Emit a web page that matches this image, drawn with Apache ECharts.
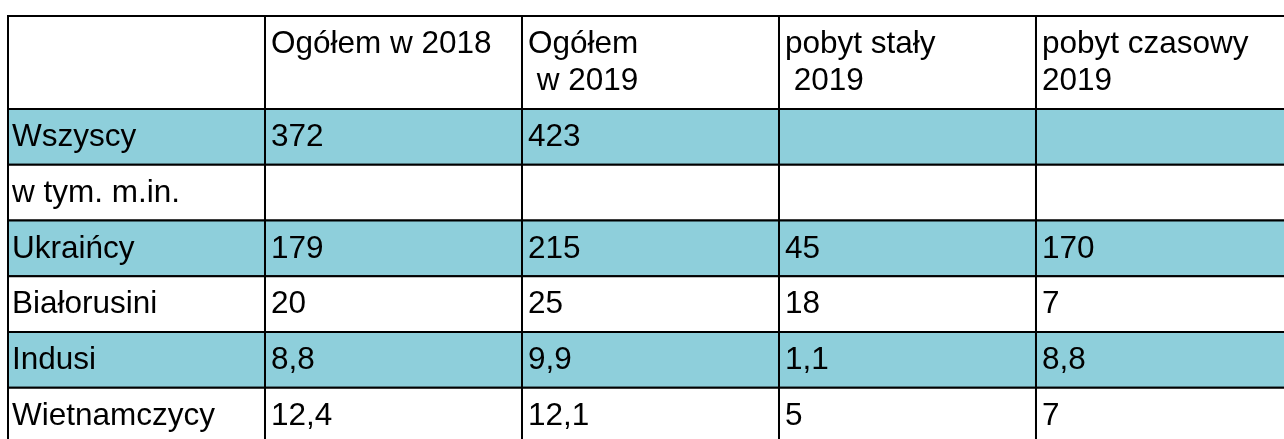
<!DOCTYPE html>
<html>
<head>
<meta charset="utf-8">
<script src="https://cdn.jsdelivr.net/npm/echarts@6/dist/echarts.min.js"></script>
<style>
  html, body { margin: 0; padding: 0; background: #fff; }
  #chart { width: 1284px; height: 439px; }
</style>
</head>
<body>
<div id="chart"></div>
<script>
// nagłówki kolumn
const columns = ['', 'Ogółem w 2018', 'Ogółem\n w 2019', 'pobyt stały\n 2019', 'pobyt czasowy\n2019']
// wiersze
const groups = ['Wszyscy', 'w tym. m.in.', 'Ukraińcy', 'Białorusini', 'Indusi', 'Wietnamczycy']
// wartości (tys.)
const total2018 = [372, null, 179, 20, 8.8, 12.4]
const total2019 = [423, null, 215, 25, 9.9, 12.1]
const permanent2019 = [null, null, 45, 18, 1.1, 5]
const temporary2019 = [null, null, 170, 7, 8.8, 7]

// wysokość nagłówka w jednostkach wiersza
const HEAD = 1.668

function fmt(v) {
  return v == null ? '' : String(v).replace('.', ',')
}

let cells = []
let texts = []
// nagłówek
columns.forEach((c, ci) => {
  cells.push({ value: [ci, 0, HEAD, 0] })
  texts.push(c)
})
// dane
groups.forEach((g, ri) => {
  let row = [g, fmt(total2018[ri]), fmt(total2019[ri]), fmt(permanent2019[ri]), fmt(temporary2019[ri])]
  row.forEach((t, ci) => {
    cells.push({ value: [ci, HEAD + ri, HEAD + ri + 1, ri % 2 === 0 ? 1 : 2] })
    texts.push(t)
  })
})

let chart = echarts.init(document.getElementById('chart'))
chart.setOption({
  animation: false,
  // ostatnia kolumna i ostatni wiersz są ucięte krawędzią obrazka
  grid: { left: 8, right: 0, top: 16, bottom: 0 },
  xAxis: { type: 'value', min: 0, max: 4.965, show: false },
  yAxis: { type: 'value', min: 0, max: 7.587, inverse: true, show: false },
  series: [
    {
      type: 'custom',
      clip: false,
      data: cells,
      renderItem: function (params, api) {
        let c = api.value(0)
        let p0 = api.coord([c, api.value(1)])
        let p1 = api.coord([c + 1, api.value(2)])
        let kind = api.value(3)
        let isHead = kind === 0
        return {
          type: 'group',
          children: [
            {
              type: 'rect',
              shape: { x: p0[0], y: p0[1], width: p1[0] - p0[0], height: p1[1] - p0[1] },
              style: { fill: kind === 1 ? '#8ecfdb' : '#ffffff', stroke: '#000', lineWidth: 2 }
            },
            {
              type: 'text',
              style: {
                text: texts[params.dataIndex],
                x: p0[0] + (c === 0 ? 4 : 6),
                y: isHead ? p0[1] + 10 : (p0[1] + p1[1]) / 2 + 0.5,
                align: 'left',
                verticalAlign: isHead ? 'top' : 'middle',
                fontSize: 31.5,
                lineHeight: 37,
                fontFamily: '"Liberation Sans", Arial, sans-serif',
                fill: '#000'
              }
            }
          ]
        }
      }
    }
  ]
})
</script>
</body>
</html>
